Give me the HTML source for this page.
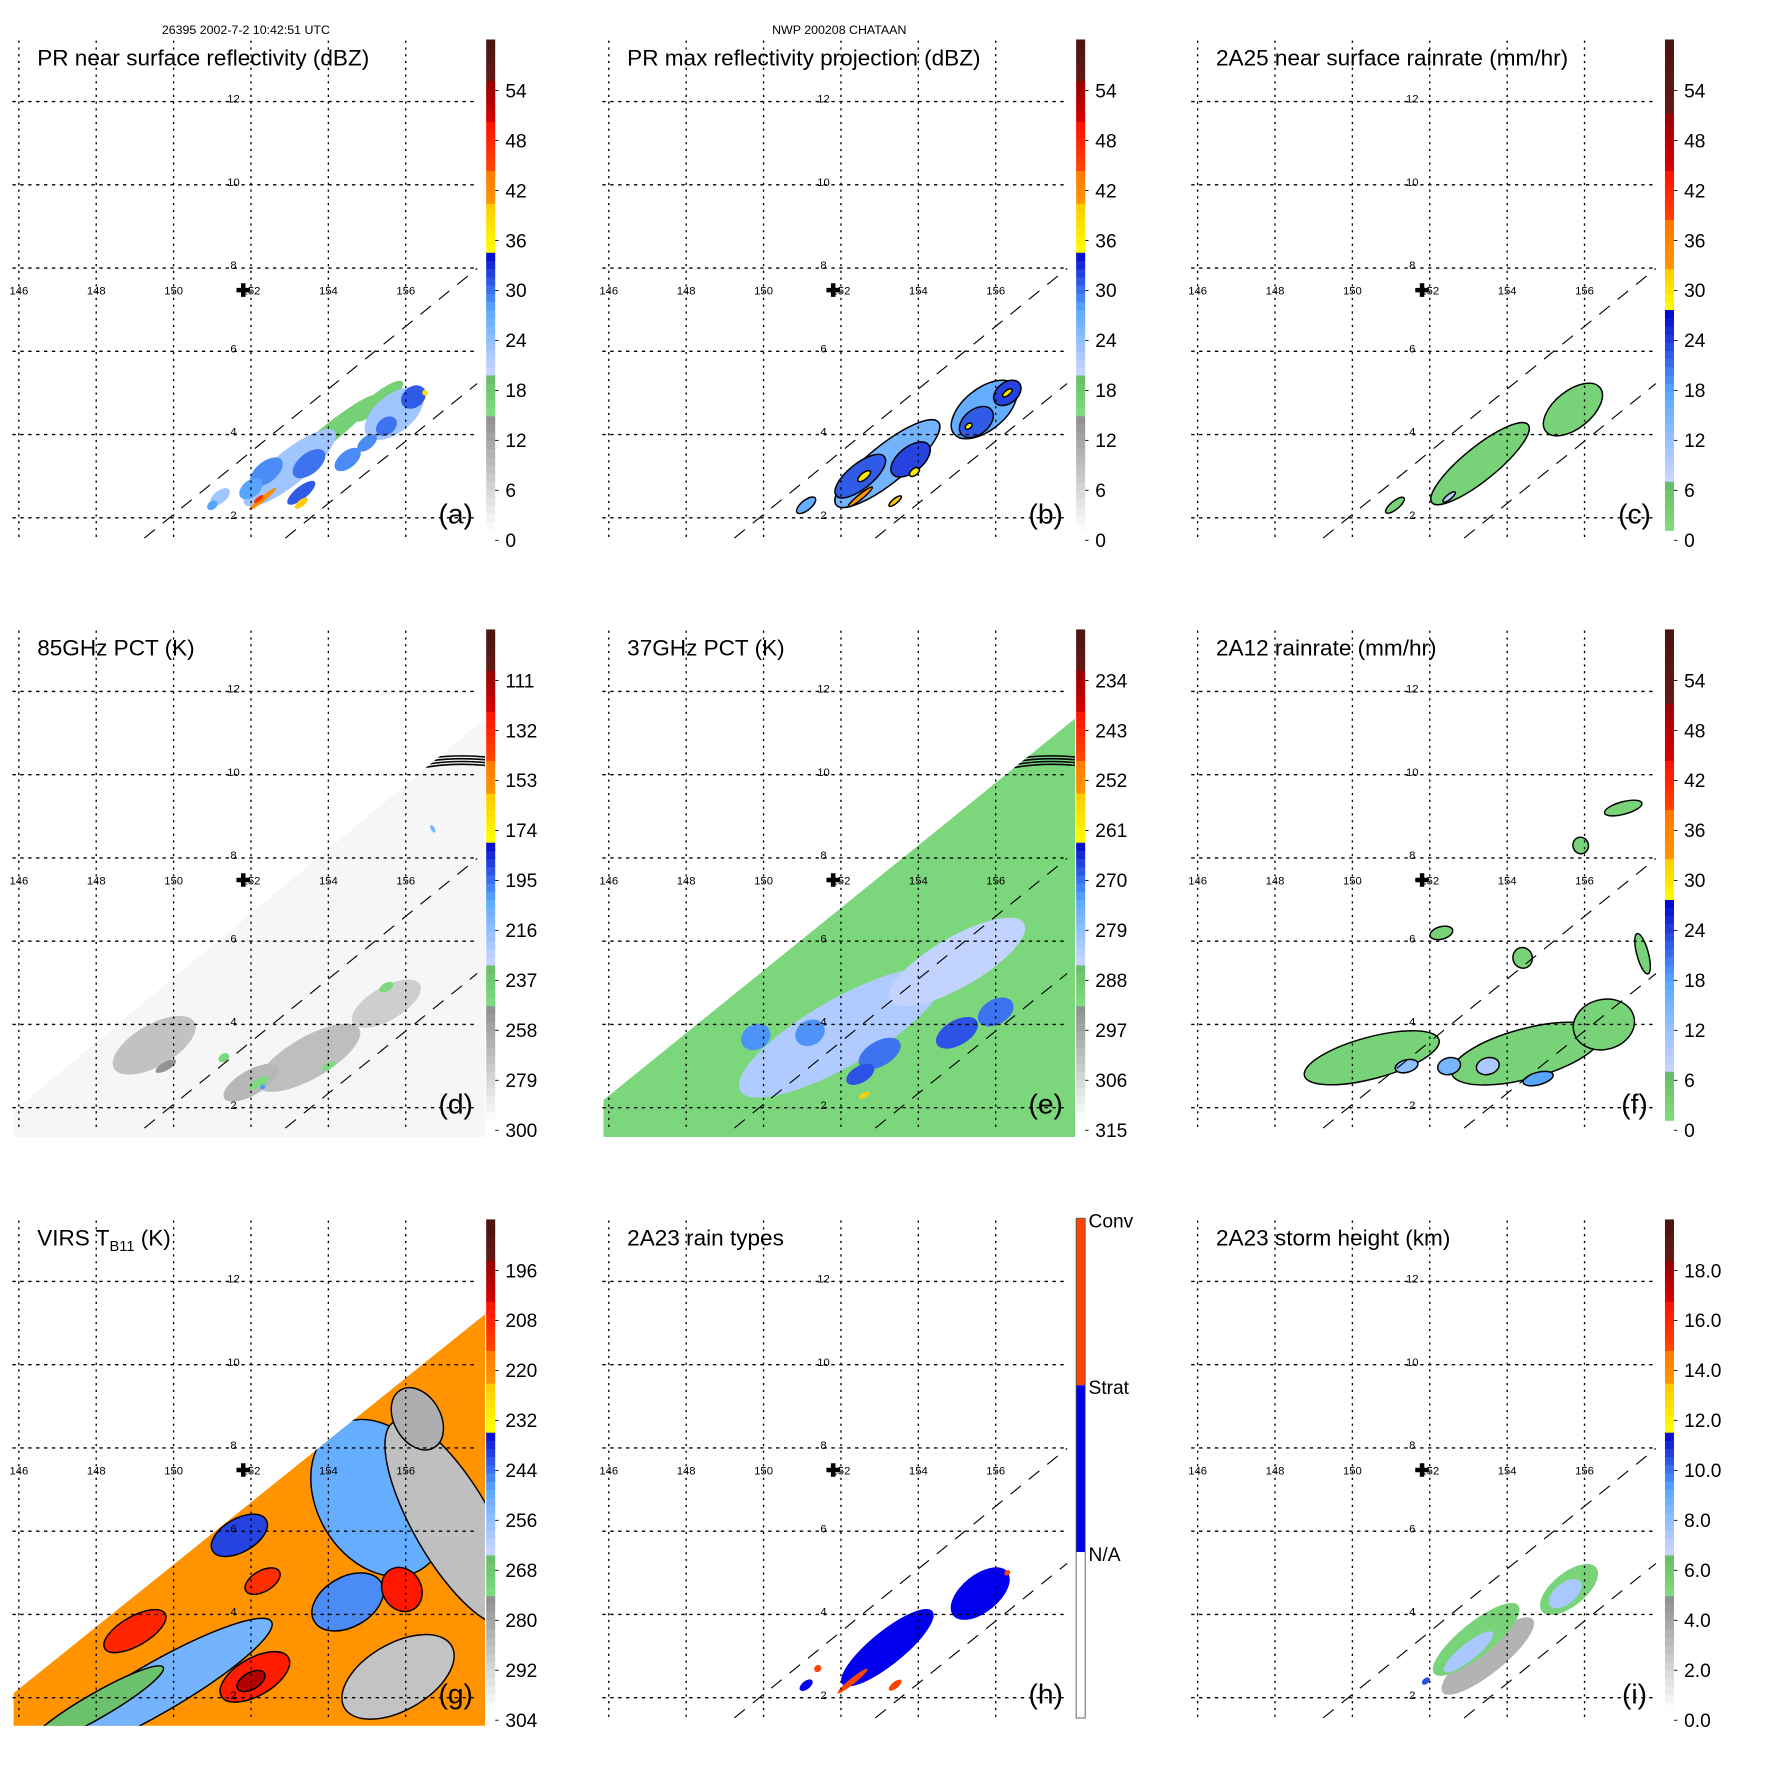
<!DOCTYPE html>
<html><head><meta charset="utf-8">
<style>
html,body{margin:0;padding:0;background:#fff;}
svg{display:block;font-family:"Liberation Sans",Arial,sans-serif;}
</style></head>
<body>
<svg id="fig" width="1771" height="1771" viewBox="0 0 1570 1570" xmlns="http://www.w3.org/2000/svg">
<rect x="0" y="0" width="1570" height="1570" fill="#fff"/>
<text x="218" y="30" font-size="11" text-anchor="middle">26395 2002-7-2 10:42:51 UTC</text>
<text x="744" y="30" font-size="11" text-anchor="middle">NWP 200208 CHATAAN</text>
</svg>
<script>
// ---- axis data ----
const lonTicks = [146,148,150,152,154,156];
const latTicks = [2,4,6,8,10,12];
const centerLon = 151.8, centerLat = 7.47;

// colorbar labels (bottom -> top)
const labelsA = [0,6,12,18,24,30,36,42,48,54];
const labelsC = [0,6,12,18,24,30,36,42,48,54];
const labelsD = [300,279,258,237,216,195,174,153,132,111];
const labelsE = [315,306,297,288,279,270,261,252,243,234];
const labelsG = [304,292,280,268,256,244,232,220,208,196];
const labelsI = ['0.0','2.0','4.0','6.0','8.0','10.0','12.0','14.0','16.0','18.0'];
const labelsH = ['N/A','Strat','Conv'];

// field blobs: [lon, lat, halfLonDeg, halfLatDeg, value]
const blobsA = [
 [154.0,4.0,1.6,0.22,17],[155.3,4.8,0.8,0.2,17],
 [153.0,3.2,1.5,0.4,23],[155.7,4.5,0.9,0.45,23],[151.2,2.5,0.3,0.15,23],
 [152.4,3.1,0.5,0.25,29],[153.5,3.3,0.5,0.25,30],[152.0,2.7,0.35,0.2,28],[154.5,3.4,0.4,0.2,29],
 [155.5,4.2,0.3,0.2,30],[156.2,4.9,0.35,0.25,31],[155.0,3.8,0.3,0.15,29],[153.3,2.6,0.45,0.15,31],[151.0,2.3,0.15,0.1,28],
 [152.3,2.45,0.45,0.06,42],[153.3,2.35,0.2,0.08,40],[156.5,5.0,0.07,0.07,38],[152.2,2.45,0.15,0.05,47]
];
const blobsB = [
 [153.2,3.3,1.7,0.45,26],[155.7,4.6,1.0,0.5,27],[151.1,2.3,0.3,0.12,27],
 [152.5,3.0,0.8,0.3,31],[153.8,3.4,0.6,0.3,32],[155.5,4.3,0.5,0.3,31],[156.3,5.0,0.4,0.25,32],
 [152.6,3.0,0.2,0.08,37],[153.9,3.1,0.15,0.08,37],[156.3,5.0,0.15,0.06,37],[155.3,4.2,0.1,0.06,36],
 [152.5,2.5,0.4,0.06,41],[153.4,2.4,0.2,0.06,40]
];
const blobsC = [
 [153.3,3.3,1.6,0.4,3],[155.7,4.6,0.9,0.45,3],[151.1,2.3,0.3,0.1,3],[152.5,2.5,0.2,0.06,9]
];
const blobsD = [
 [149.5,3.5,1.2,0.5,270],[153.5,3.2,1.5,0.5,268],[152.0,2.6,0.8,0.3,265],[155.5,4.5,1.0,0.4,275],
 [155.5,4.9,0.2,0.1,245],[152.2,2.6,0.3,0.1,245],[154.0,3.0,0.2,0.08,245],[149.8,3.0,0.3,0.1,250],[151.3,3.2,0.15,0.1,245],
 [152.3,2.5,0.07,0.05,200],[156.7,8.7,0.05,0.1,210]
];
const blobsE = [
 [152.0,3.8,3.0,0.8,282],[155.0,5.5,2.0,0.6,284],
 [149.8,3.7,0.4,0.3,272],[151.2,3.8,0.4,0.3,272],[153.0,3.3,0.6,0.3,270],[155.0,3.8,0.6,0.3,268],
 [156.0,4.3,0.5,0.3,270],[152.5,2.8,0.4,0.2,268],[152.6,2.3,0.15,0.06,255]
];
const blobsF = [
 [150.5,3.2,1.8,0.5,3],[154.5,3.3,2.0,0.6,3],[156.5,4.0,0.8,0.6,3],[157.0,9.2,0.5,0.15,3],
 [155.9,8.3,0.2,0.2,3],[152.3,6.2,0.3,0.15,3],[154.4,5.6,0.25,0.25,3],[157.5,5.7,0.15,0.5,3],
 [152.5,3.0,0.3,0.2,15],[154.8,2.7,0.4,0.15,18],[151.4,3.0,0.3,0.15,13],[153.5,3.0,0.3,0.2,10]
];
const blobsG = [
 [155.3,6.8,1.6,2.0,250],[154.5,4.3,1.0,0.6,246],[157.2,6.2,1.0,2.8,286],[156.3,8.7,0.6,0.8,282],
 [155.8,2.5,1.6,0.8,287],[149.5,2.2,3.5,0.6,252],[148.0,1.8,2.0,0.3,266],[151.7,5.9,0.8,0.4,240],
 [153.3,8.3,0.6,0.3,245],[152.1,2.5,1.0,0.45,206],[149.0,3.6,0.9,0.35,208],[155.9,4.6,0.5,0.55,205],
 [152.3,4.8,0.5,0.25,210],[152.0,2.4,0.4,0.2,198],[150.5,6.5,0.4,0.4,231]
];
const blobsH = [
 [153.2,3.2,1.5,0.4,1],[155.6,4.5,0.9,0.45,1],[151.1,2.3,0.2,0.1,1],
 [152.3,2.4,0.5,0.07,2],[153.4,2.3,0.2,0.08,2],[151.4,2.7,0.1,0.08,2],[156.3,5.0,0.08,0.06,2]
];
const blobsI = [
 [153.5,3.0,1.5,0.4,3.5],[153.2,3.4,1.4,0.4,5.5],[155.6,4.6,0.9,0.4,5.5],
 [153.0,3.1,0.8,0.2,7.5],[155.5,4.5,0.5,0.25,7.5],[151.9,2.4,0.12,0.07,10.5]
];

// ---- helpers ----
const NS = 'http://www.w3.org/2000/svg';
const svg = document.getElementById('fig');
function el(tag, attrs, parent){const e=document.createElementNS(NS,tag);for(const k in attrs)e.setAttribute(k,attrs[k]);(parent||svg).appendChild(e);return e;}
function X(lon){return 16.7+(lon-146)*34.3;}
function Y(lat){return 459-(lat-2)*36.9;}
const stdStops=[[0,'#ffffff'],[0.237,'#8c8c8c'],[0.2371,'#80dd80'],[0.32,'#66bb66'],[0.3201,'#ccd6ff'],[0.45,'#5aaaff'],[0.57,'#0000cc'],[0.5701,'#ffff00'],[0.66,'#ffcc00'],[0.6601,'#ff9900'],[0.74,'#ff7700'],[0.7401,'#ff4400'],[0.83,'#ff1100'],[0.8301,'#dd0000'],[0.91,'#990000'],[0.9101,'#661a14'],[1,'#4a1410']];
const rainStops=[[0,'#80dd80'],[0.1,'#66bb66'],[0.1001,'#ccd6ff'],[0.28,'#5aaaff'],[0.45,'#0000cc'],[0.4501,'#ffff00'],[0.53,'#ffcc00'],[0.5301,'#ff9900'],[0.63,'#ff7700'],[0.6301,'#ff4400'],[0.73,'#ff1100'],[0.7301,'#dd0000'],[0.85,'#990000'],[0.8501,'#661a14'],[1,'#4a1410']];
function hex(c){return [parseInt(c.substr(1,2),16),parseInt(c.substr(3,2),16),parseInt(c.substr(5,2),16)];}
function cmap(stops,f){f=Math.max(0,Math.min(1,f));for(let i=1;i<stops.length;i++){if(f<=stops[i][0]){const a=hex(stops[i-1][1]),b=hex(stops[i][1]);const t=(f-stops[i-1][0])/Math.max(1e-6,stops[i][0]-stops[i-1][0]);return 'rgb('+a.map((v,j)=>Math.round(v+(b[j]-v)*t)).join(',')+')';}}return stops[stops.length-1][1];}
function fracOf(v,labels){const L0=parseFloat(labels[0]),step=parseFloat(labels[1])-L0;const i=(v-L0)/step;return (44.3*i-9)/435;}

const panels=[
 {id:'a',col:0,row:0,title:'PR near surface reflectivity (dBZ)',labels:labelsA,stops:stdStops,blobs:blobsA,outline:false,swath:true,ang:-39},
 {id:'b',col:1,row:0,title:'PR max reflectivity projection (dBZ)',labels:labelsA,stops:stdStops,blobs:blobsB,outline:true,swath:true,ang:-39},
 {id:'c',col:2,row:0,title:'2A25 near surface rainrate (mm/hr)',labels:labelsC,stops:rainStops,blobs:blobsC,outline:true,swath:true,ang:-39},
 {id:'d',col:0,row:1,title:'85GHz PCT (K)',labels:labelsD,stops:stdStops,blobs:blobsD,outline:false,swath:true,ang:-30,bg:292,tri:[[12,485],[12,462],[430,114],[430,485]],arcs:true},
 {id:'e',col:1,row:1,title:'37GHz PCT (K)',labels:labelsE,stops:stdStops,blobs:blobsE,outline:false,swath:true,ang:-30,bg:291,tri:[[12,485],[12,452],[430,114],[430,485]],arcs:true},
 {id:'f',col:2,row:1,title:'2A12 rainrate (mm/hr)',labels:labelsC,stops:rainStops,blobs:blobsF,outline:true,swath:true,ang:-15},
 {id:'g',col:0,row:2,title:'VIRS',labels:labelsG,stops:stdStops,blobs:blobsG,outline:true,swath:false,ang:-30,bg:222,tri:[[12,484],[12,455],[430,119],[430,484]]},
 {id:'h',col:1,row:2,title:'2A23 rain types',labels:null,blobs:blobsH,outline:false,swath:true,ang:-39},
 {id:'i',col:2,row:2,title:'2A23 storm height (km)',labels:labelsI,stops:stdStops,blobs:blobsI,outline:false,swath:true,ang:-39}
];
const colOff=[0,523,1045], rowOff=[0,523,1046];

panels.forEach(p=>{
  const g=el('g',{transform:'translate('+colOff[p.col]+','+rowOff[p.row]+')'});
  
  
  const defs=el('defs',{},g);
  const cp=el('clipPath',{id:'clip-'+p.id},defs);
  if(p.tri) el('polygon',{points:p.tri.map(q=>q.join(',')).join(' ')},cp);
  else el('rect',{x:12,y:36,width:418,height:442},cp);
  const field=el('g',{'clip-path':'url(#clip-'+p.id+')'},g);
  
  
  const colorFor=v=> p.id==='h' ? (v>=2?'#ff4400':(v>=1?'#0000ee':'#ffffff')) : cmap(p.stops,fracOf(v,p.labels));
  if(p.tri){
    const bg=el('polygon',{points:p.tri.map(q=>q.join(',')).join(' '),fill:colorFor(p.bg)},field);
    
    
  }
  p.blobs.forEach(b=>{
    const cx=X(b[0]),cy=Y(b[1]);
    const e=el('ellipse',{cx:cx,cy:cy,rx:b[2]*34.3,ry:b[3]*36.9,fill:colorFor(b[4]),transform:'rotate('+p.ang+' '+cx+' '+cy+')'},field);
    if(p.outline){e.setAttribute('stroke','#000');e.setAttribute('stroke-width','1.3');}
    
    
  });
  if(p.arcs){
    for(let k=0;k<4;k++){
      const a=el('path',{d:'M'+X(155.9)+','+(Y(10.05)-k*2.5)+' Q'+X(157)+','+(Y(10.35)-k*2.5)+' '+X(158.3)+','+(Y(10.2)-k*2.5),fill:'none',stroke:'#000','stroke-width':1.4},field);
      
      
    }
  }
  // grid
  lonTicks.forEach(lon=>{
    const l=el('line',{x1:X(lon),x2:X(lon),y1:36,y2:478,stroke:'#000','stroke-width':1.2,'stroke-dasharray':'2,4'},g);
    
    
    const t=el('text',{x:X(lon),y:261,'font-size':10,'text-anchor':'middle'},g);
    t.textContent=lon;
    
    
  });
  latTicks.forEach(lat=>{
    const l=el('line',{x1:11,x2:424,y1:Y(lat),y2:Y(lat),stroke:'#000','stroke-width':1.2,'stroke-dasharray':'3,4'},g);
    
    
    const t=el('text',{x:207,y:Y(lat)+1,'font-size':10,'text-anchor':'middle'},g);
    t.textContent=lat;
    
    
  });
  if(p.swath){
    const s1=el('line',{x1:128,y1:477,x2:423,y2:238,stroke:'#000','stroke-width':1,'stroke-dasharray':'12,9'},g);
    
    
    const s2=el('line',{x1:253,y1:477,x2:423,y2:340,stroke:'#000','stroke-width':1,'stroke-dasharray':'12,9'},g);
    
    
  }
  // center cross
  const cx=X(centerLon),cy=Y(centerLat);
  const cr=el('path',{d:'M'+(cx-6)+','+cy+' H'+(cx+6)+' M'+cx+','+(cy-6)+' V'+(cy+6),stroke:'#000','stroke-width':4},g);
  
  
  // title
  const tt=el('text',{x:33,y:58,'font-size':20},g);
  if(p.id==='g'){
    tt.textContent='VIRS T';
    const sub=el('tspan',{'font-size':13,dy:5},tt); sub.textContent='B11';
    const rest=el('tspan',{dy:-5},tt); rest.textContent=' (K)';
  } else tt.textContent=p.title;
  
  
  const pl=el('text',{x:404,y:464,'font-size':25,'text-anchor':'middle'},g);
  pl.textContent='('+p.id+')';
  
  
  // colorbar
  const cb=el('g',{},g);
  
  
  if(p.id==='h'){
    el('rect',{x:431,y:34,width:8,height:148,fill:'#ff4400'},cb);
    el('rect',{x:431,y:182,width:8,height:148,fill:'#0000ee'},cb);
    el('rect',{x:431,y:330,width:8,height:147,fill:'#fff'},cb);
    el('rect',{x:431,y:34,width:8,height:443,fill:'none',stroke:'#555','stroke-width':0.8},cb);
    const ys=[338,190,42];
    labelsH.forEach((lb,i)=>{
      const t=el('text',{x:442,y:ys[i],'font-size':17},cb);
      t.textContent=lb;
      
      
    });
  } else {
    const N=60;
    for(let k=0;k<N;k++){
      const f0=k/N;
      el('rect',{x:431,y:470-(k+1)*435/N,width:8,height:435/N+0.6,fill:cmap(p.stops,f0+0.5/N)},cb);
    }
    p.labels.forEach((lb,i)=>{
      const y=479-44.3*i;
      el('line',{x1:439,x2:442,y1:y,y2:y,stroke:'#000','stroke-width':0.8},cb);
      const t=el('text',{x:448,y:y+6,'font-size':17},cb);
      t.textContent=lb;
      
      
    });
  }
});
</script>
</body></html>
